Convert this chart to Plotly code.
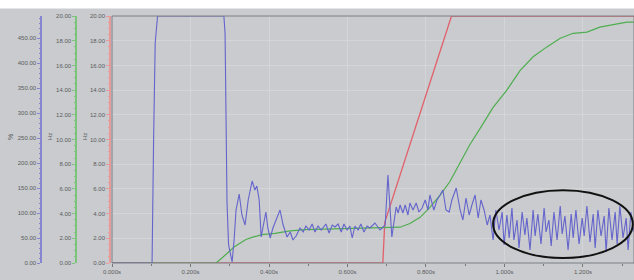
import plotly.graph_objects as go

# ---- data ----
red_t = [0.000, 0.690, 0.695, 0.865, 1.330]
red_hz = [0.0, 0.0, 3.3, 20.0, 20.0]

green_t = [0.000, 0.265, 0.280, 0.296, 0.311, 0.326, 0.341, 0.359, 0.382, 0.415, 0.454,
           0.492, 0.555, 0.657, 0.734, 0.759, 0.785, 0.810, 0.836, 0.861, 0.887, 0.912,
           0.938, 0.971, 1.006, 1.040, 1.073, 1.108, 1.142, 1.175, 1.210, 1.243, 1.277,
           1.312, 1.330]
green_hz = [0.0, 0.0, 0.4, 0.9, 1.3, 1.6, 1.9, 2.1, 2.3, 2.4, 2.6,
            2.7, 2.75, 2.83, 2.9, 3.2, 3.7, 4.5, 5.5, 6.6, 8.1, 9.6,
            10.9, 12.6, 14.0, 15.6, 16.7, 17.5, 18.2, 18.6, 18.7, 19.1, 19.3,
            19.5, 19.5]

blue_t = [0.000, 0.102, 0.106, 0.110, 0.116, 0.285, 0.288, 0.290, 0.293, 0.297, 0.306,
          0.311, 0.316, 0.324, 0.331, 0.339, 0.347, 0.357, 0.364, 0.369, 0.375, 0.380,
          0.387, 0.392, 0.397, 0.403, 0.410, 0.418, 0.428, 0.436, 0.446, 0.454, 0.461,
          0.469, 0.479, 0.487, 0.494, 0.502, 0.510, 0.517, 0.525, 0.533, 0.545, 0.553,
          0.561, 0.568, 0.576, 0.584, 0.591, 0.599, 0.606, 0.612, 0.619, 0.627, 0.634,
          0.642, 0.650, 0.657, 0.670, 0.683, 0.696, 0.703, 0.713, 0.724, 0.729, 0.734,
          0.741, 0.747, 0.754, 0.759, 0.767, 0.775, 0.782, 0.790, 0.798, 0.805, 0.810,
          0.820, 0.828, 0.836, 0.843, 0.851, 0.859, 0.866, 0.877, 0.887, 0.894, 0.902,
          0.910, 0.917, 0.925, 0.933, 0.940, 0.948, 0.956, 0.963, 0.971, 0.978, 0.986,
          0.994, 0.999, 1.006, 1.012, 1.019, 1.024, 1.032, 1.037, 1.045, 1.052, 1.057,
          1.065, 1.073, 1.078, 1.085, 1.093, 1.101, 1.106, 1.113, 1.119, 1.126, 1.134,
          1.142, 1.147, 1.154, 1.162, 1.170, 1.175, 1.182, 1.190, 1.198, 1.203, 1.210,
          1.218, 1.226, 1.231, 1.238, 1.246, 1.254, 1.259, 1.266, 1.274, 1.282, 1.287,
          1.294, 1.302, 1.310, 1.315, 1.322, 1.330]
blue_pct = [0, 0, 250, 440, 494, 494, 460, 300, 120, 36, 2,
            46, 106, 138, 96, 76, 126, 164, 146, 154, 126, 52,
            86, 102, 70, 50, 70, 86, 106, 76, 52, 62, 46,
            54, 70, 62, 74, 66, 78, 62, 74, 66, 78, 60,
            76, 72, 78, 62, 78, 66, 74, 50, 74, 66, 78,
            62, 74, 70, 80, 66, 76, 176, 52, 112, 100, 116,
            100, 116, 96, 120, 106, 120, 102, 110, 126, 106, 136,
            106, 126, 136, 146, 106, 102, 126, 150, 106, 86, 130,
            96, 116, 136, 90, 126, 106, 76, 96, 46, 106, 66,
            102, 36, 96, 50, 110, 46, 86, 30, 102, 56, 90,
            26, 106, 54, 98, 38, 110, 62, 86, 34, 102, 46,
            114, 58, 94, 26, 98, 50, 106, 38, 90, 54, 114,
            42, 98, 30, 106, 54, 94, 22, 110, 46, 102, 38,
            114, 50, 90, 26, 102, 62]

x_range = [0, 1.33]
hz_range = [0, 20]
pct_range = [0, 494]

# ---- style ----
BG = "#c9cbce"
GRID = "#d3d5d7"
TXT = "#5a5c60"
FONT = "Liberation Sans"
BLUE = "#6464cc"
GREEN = "#4fae4f"
RED = "#e2606a"

fig = go.Figure()
fig.add_trace(go.Scatter(x=red_t, y=red_hz, mode="lines", line=dict(color=RED, width=1.3),
                         yaxis="y", showlegend=False))
fig.add_trace(go.Scatter(x=green_t, y=green_hz, mode="lines", line=dict(color=GREEN, width=1.2),
                         yaxis="y2", showlegend=False))
fig.add_trace(go.Scatter(x=blue_t, y=blue_pct, mode="lines", line=dict(color=BLUE, width=1.1),
                         yaxis="y3", showlegend=False))

tickfont = dict(family=FONT, size=6, color=TXT)

def yax(pos, color, rng, dtick, minor_dtick, grid=False, overlay=None):
    d = dict(range=rng, anchor="free", position=pos, side="left",
             showline=True, linecolor=color, linewidth=1.5,
             ticks="outside", ticklen=3, tickcolor=color, dtick=dtick,
             tickformat=".2f", tickfont=tickfont, showgrid=grid, gridcolor=GRID,
             gridwidth=1, zeroline=False, automargin=False, fixedrange=True,
             minor=dict(ticks="outside", ticklen=1.5, dtick=minor_dtick, tickcolor=color))
    if overlay:
        d["overlaying"] = overlay
    return d

fig.update_layout(
    width=634, height=280,
    margin=dict(l=0, r=0, t=16, b=17),
    paper_bgcolor=BG, plot_bgcolor=BG,
    font=dict(family=FONT, size=6, color=TXT),
    xaxis=dict(domain=[0.1767, 1], range=x_range, dtick=0.2, tickformat=".3f",
               ticksuffix="s", ticks="outside", ticklen=3, tickcolor="#777",
               tickfont=tickfont, showgrid=True, gridcolor=GRID, zeroline=False,
               showline=False, automargin=False, fixedrange=True,
               minor=dict(ticks="outside", ticklen=2, dtick=0.1, tickcolor="#777")),
    yaxis=yax(0.1735, "#e89a9a", hz_range, 2, 0.5, grid=True),
    yaxis2=yax(0.1199, "#7cc47c", hz_range, 2, 0.5, overlay="y"),
    yaxis3=yax(0.0647, "#8585d0", pct_range, 50, 10, overlay="y"),
    shapes=[
        dict(type="rect", xref="x domain", yref="y domain", x0=0, x1=1, y0=0, y1=1,
             line=dict(color="#7b7e84", width=1), layer="above"),
        dict(type="rect", xref="paper", yref="paper", x0=0, x1=1, y0=1.03, y1=1.1,
             fillcolor="white", line=dict(width=0), layer="above"),
        dict(type="circle", xref="x", yref="y", x0=0.971, x1=1.327, y0=0.4, y1=5.9,
             line=dict(color="#111", width=2)),
    ],
    annotations=[
        dict(text="%", xref="paper", yref="paper", x=10/634, y=0.51, xanchor="center",
             yanchor="middle", showarrow=False, textangle=-90,
             font=dict(family=FONT, size=7, color=TXT)),
        dict(text="Hz", xref="paper", yref="paper", x=50/634, y=0.51, xanchor="center",
             yanchor="middle", showarrow=False, textangle=-90,
             font=dict(family=FONT, size=6, color=TXT)),
        dict(text="Hz", xref="paper", yref="paper", x=85/634, y=0.51, xanchor="center",
             yanchor="middle", showarrow=False, textangle=-90,
             font=dict(family=FONT, size=6, color=TXT)),
    ],
)

fig.write_html("out.html", config={"displayModeBar": False},
               post_script="document.body.style.margin='0';document.body.style.overflow='hidden';")
